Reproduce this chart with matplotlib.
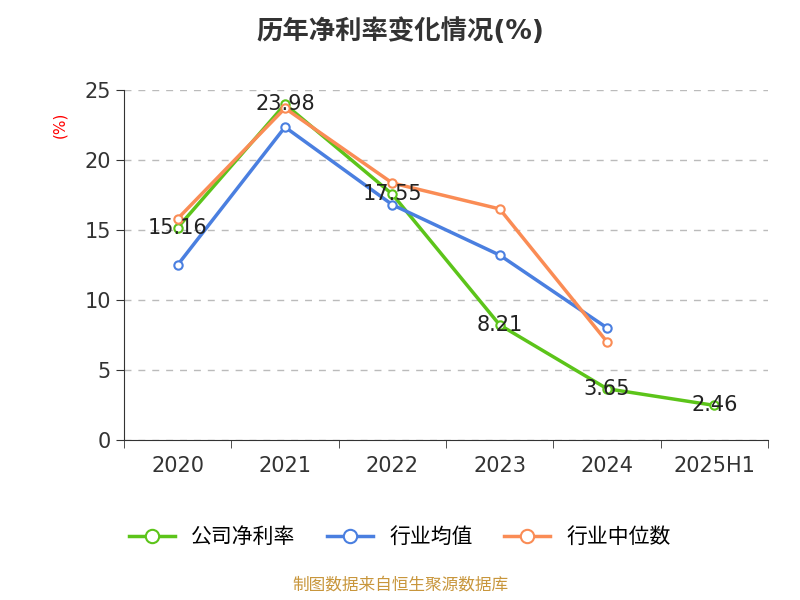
import matplotlib
matplotlib.use('Agg')
from matplotlib import pyplot as plt
from matplotlib import font_manager

# pick whichever CJK family is actually registered
cjk = [f.name for f in font_manager.fontManager.ttflist if 'CJK' in f.name]
plt.rcParams['font.family'] = ['DejaVu Sans'] + sorted(set(cjk))

categories = ['2020', '2021', '2022', '2023', '2024', '2025H1']
company = [15.16, 23.98, 17.55, 8.21, 3.65, 2.46]
industry_avg = [12.5, 22.35, 16.8, 13.2, 8.0]
industry_median = [15.8, 23.7, 18.35, 16.5, 7.0]

fig = plt.figure(figsize=(8, 6), dpi=100)
ax = fig.add_axes([0.155, 0.267, 0.805, 0.583])

x = list(range(len(categories)))
ax.plot(x, company, color='#5cc41a', lw=2.5, marker='o', ms=6,
        mfc='white', mew=1.5, label='公司净利率', zorder=3)
ax.plot(x[:5], industry_avg, color='#4a7fe0', lw=2.5, marker='o', ms=6,
        mfc='white', mew=1.5, label='行业均值', zorder=3)
ax.plot(x[:5], industry_median, color='#fa8c55', lw=2.5, marker='o', ms=6,
        mfc='white', mew=1.5, label='行业中位数', zorder=3)

for xi, v in zip(x, company):
    ax.text(xi, v, f'{v:.2f}', ha='center', va='center', fontsize=15,
            color='#222222', zorder=4)

ax.set_xlim(-0.5, len(categories) - 0.5)
ax.set_ylim(0, 25)
ax.set_yticks([0, 5, 10, 15, 20, 25])
ax.set_xticks(x)
ax.set_xticklabels(categories)
ax.set_xticks([i - 0.5 for i in range(len(categories) + 1)], minor=True)
ax.tick_params(axis='x', which='major', length=0, pad=12, labelsize=15, colors='#333333')
ax.tick_params(axis='x', which='minor', length=6, color='#333333')
ax.tick_params(axis='y', length=6, labelsize=15, colors='#333333')
ax.yaxis.grid(True, ls=(0, (5, 5)), color='#bbbbbb', lw=1)
for s in ['top', 'right']:
    ax.spines[s].set_visible(False)
ax.spines['left'].set_color('#333333')
ax.spines['bottom'].set_color('#333333')

ax.text(-0.1, 0.9, '(%)', transform=ax.transAxes, rotation=90, color='red',
        fontsize=11, ha='center', va='center')

fig.suptitle('历年净利率变化情况(%)', y=0.97, fontsize=19, fontweight='bold', color='#333333')
fig.legend(loc='center', bbox_to_anchor=(0.5, 0.105), ncol=3, frameon=False,
           fontsize=15, handlelength=2.2, markerscale=1.6, columnspacing=1.5)
fig.text(0.5, 0.018, '制图数据来自恒生聚源数据库', ha='center', fontsize=12, color='#c8963c')

fig.savefig('out.png')
